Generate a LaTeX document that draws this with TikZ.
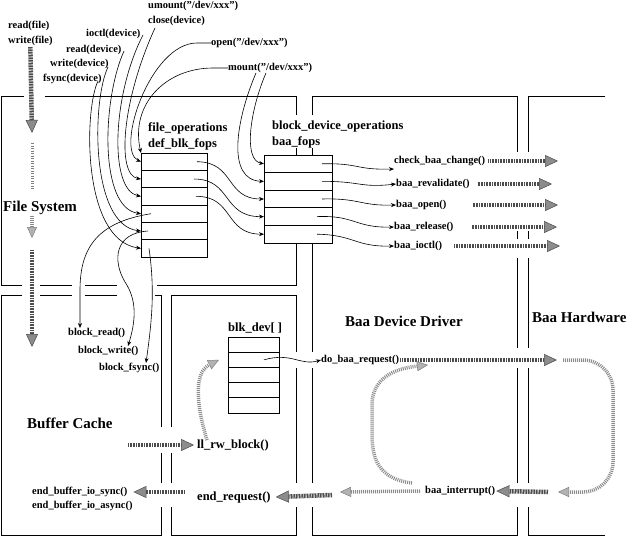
\documentclass[tikz,border=0pt]{standalone}
\usepackage{fontspec}
\setmainfont{Liberation Serif}
\usetikzlibrary{arrows.meta,positioning}

\newcommand{\dq}{\symbol{34}}
\tikzset{
  small/.style={font=\fontsize{10.5}{12}\selectfont\bfseries, inner sep=0pt, anchor=west},
  mid/.style={font=\fontsize{12.5}{14}\selectfont\bfseries, inner sep=0pt, anchor=west},
  big/.style={font=\fontsize{15}{17}\selectfont\bfseries, inner sep=0pt, anchor=west},
  panel/.style={line width=0.8pt},
  conn/.style={line width=0.6pt, -{Stealth[length=5pt,width=4pt]}},
  bigarrow/.style={draw=black!70, line width=4.5pt, dash pattern=on 1pt off 0.6pt,
    -{Triangle[length=13pt,width=12pt,color=black!70,fill=black!45,line width=0.5pt]}},
  litearrow/.style={draw=black!45, line width=3.5pt, dash pattern=on 1pt off 1pt,
    -{Triangle[length=11pt,width=10pt,color=black!50,fill=black!30,line width=0.5pt]}},
  dots/.style={draw=black!50, line width=3pt, dash pattern=on 1pt off 1.5pt},
  frow/.style={draw, line width=0.8pt, minimum width=66pt, minimum height=17.33pt,
    inner sep=0pt, outer sep=0pt},
  brow/.style={frow, minimum width=68pt, minimum height=17.6pt},
  krow/.style={frow, minimum width=51pt, minimum height=15.2pt},
}

\begin{document}
\begin{tikzpicture}[x=1pt,y=-1pt]
\useasboundingbox (0,0) rectangle (630,538);

% panels
\draw[panel] (24,96) -- (1,96) -- (1,285) -- (22,285) (40,285) -- (72,285) (85,285) -- (117,285);
\draw[panel] (157,285) -- (296,285) -- (296,243);
\draw[panel] (45,96) -- (296,96) -- (296,115) (296,148) -- (296,155);
\draw[panel] (312,115) -- (312,96) -- (517,96) -- (517,152) (312,148) -- (312,155);
\draw[panel] (312,243) -- (312,352) (312,368) -- (312,483) (312,507) -- (312,535) -- (517,535) -- (517,507)
  (517,483) -- (517,368) (517,348) -- (517,258) (517,239) -- (517,231);
\draw[panel] (605,96) -- (528,96) -- (528,152) (528,231) -- (528,239) (528,258) -- (528,348)
  (528,368) -- (528,483) (528,507) -- (528,535) -- (605,535);
\draw[panel] (22,295) -- (1,295) -- (1,535) -- (161,535) -- (161,507) (161,483) -- (161,453)
  (161,427) -- (161,295) -- (155,295) (40,295) -- (72,295) (85,295) -- (117,295);
\draw[panel] (171,427) -- (171,295) -- (296,295) -- (296,352) (296,368) -- (296,483)
  (296,507) -- (296,535) -- (171,535) -- (171,507) (171,483) -- (171,453);

% tables
\node[frow] (d1) at (174,161.7) {};
\foreach \i [count=\j from 2] in {1,...,5}
  \node[frow, below=0pt of d\i] (d\j) {};
\node[brow] (b1) at (298,163.8) {};
\foreach \i [count=\j from 2] in {1,...,4}
  \node[brow, below=0pt of b\i] (b\j) {};
\node[krow] (k1) at (253.5,344.6) {};
\foreach \i [count=\j from 2] in {1,...,4}
  \node[krow, below=0pt of k\i] (k\j) {};

% labels
\node[small] (readf) at (8,26) {read(file)};
\node[small] (writef) at (8,41) {write(file)};
\node[small] (umount) at (148,6) {umount(\dq/dev/xxx\dq)};
\node[small] (close) at (148,21) {close(device)};
\node[small] (ioctl) at (86,34) {ioctl(device)};
\node[small] (readd) at (66,50) {read(device)};
\node[small] (writed) at (50,64) {write(device)};
\node[small] (fsync) at (43,79) {fsync(device)};
\node[small] (open) at (211,43) {open(\dq/dev/xxx\dq)};
\node[small] (mount) at (228,68) {mount(\dq/dev/xxx\dq)};
\node[mid] (fileops) at (148,128) {file\_operations};
\node[mid] (defblk) at (148,144) {def\_blk\_fops};
\node[mid] (bdops) at (272,126) {block\_device\_operations};
\node[mid] (baafops) at (272,142) {baa\_fops};
\node[small] (check) at (394,161) {check\_baa\_change()};
\node[small] (reval) at (396,184) {baa\_revalidate()};
\node[small] (bopen) at (396,205) {baa\_open()};
\node[small] (brel) at (394,227) {baa\_release()};
\node[small] (bioctl) at (394,246) {baa\_ioctl()};
\node[big] (filesys) at (3,208) {File System};
\node[big] (bufcache) at (27,423) {Buffer Cache};
\node[big] (driver) at (345,321) {Baa Device Driver};
\node[big] (hardware) at (532,317) {Baa Hardware};
\node[small] (bread) at (68,333) {block\_read()};
\node[small] (bwrite) at (78,351) {block\_write()};
\node[small] (bfsync) at (99,368) {block\_fsync()};
\node[mid] (blkdev) at (228,328) {blk\_dev[ ]};
\node[small] (dobaa) at (321,360) {do\_baa\_request()};
\node[mid] (llrw) at (197,445) {ll\_rw\_block()};
\node[mid] (endreq) at (197,497) {end\_request()};
\node[small] (bint) at (425,491) {baa\_interrupt()};
\node[small] (endsync) at (32,492) {end\_buffer\_io\_sync()};
\node[small] (endasync) at (32,506) {end\_buffer\_io\_async()};

% free ends
\coordinate (fsa) at (32,133);
\coordinate (fsb) at (32,143);
\coordinate (fsc) at (32,190);
\coordinate (fsd) at (32,216);
\coordinate (fse) at (32,238);
\coordinate (fsf) at (32,250);
\coordinate (fsg) at (32,347);
\coordinate (hwin) at (557,360);
\coordinate (hwa) at (563,360);
\coordinate (hwb) at (558,492);
\coordinate (irq) at (548,492);
\coordinate (drvout) at (340,492);
\coordinate (drvin) at (332,495);
\coordinate (drvloop) at (428,365);
\coordinate (bc) at (128,445);

% system calls into def_blk_fops
\draw[conn] (98,81) .. controls (84,110) and (82,240) .. (d6.west);
\draw[conn] (108,67) .. controls (92,100) and (90,225) .. (d5.west);
\draw[conn] (124,51) .. controls (102,100) and (99,208) .. (d4.west);
\draw[conn] (143,35) .. controls (112,95) and (109,190) .. (d3.west);
\draw[conn] (155,28) .. controls (122,100) and (116,175) .. (d2.west);
\draw[conn] (open.west) -- (197,43) .. controls (150,43) and (115,150) .. (d1.west);
\draw[conn] (mount.west) -- (213,68) .. controls (165,68) and (130,105) .. (d1.north west);
\draw[conn] ([xshift=38pt]mount.south west) .. controls (250,110) and (243,160) .. (b1.west);
\draw[conn] ([xshift=28pt]mount.south west) .. controls (236,120) and (226,180) .. (b2.west);

% def_blk_fops to baa_fops
\draw[conn] ([xshift=-10pt]d1.east) .. controls (235,162) and (225,199) .. (b3.west);
\draw[conn] ([xshift=-13pt]d2.east) .. controls (232,179) and (222,217) .. (b4.west);
\draw[conn] ([xshift=-11pt]d3.east) .. controls (234,196) and (224,234) .. (b5.west);

% def_blk_fops to buffer cache
\draw[conn] ([xshift=10pt]d4.west) .. controls (100,222) and (80,245) .. (80,290) -- ([xshift=12pt]bread.north west);
\draw[conn] ([xshift=7pt]d5.west) .. controls (115,233) and (112,260) .. (125,282)
  .. controls (137,300) and (136,320) .. ([xshift=50pt]bwrite.north west);
\draw[conn] ([xshift=8pt]d6.west) .. controls (155,290) and (152,320) .. ([xshift=47pt]bfsync.north west);

% baa_fops to driver
\draw[conn] ([xshift=-10pt]b1.east) .. controls (360,163) and (355,170) .. ([yshift=-3pt]check.south west);
\draw[conn] ([xshift=-10pt]b2.east) .. controls (360,181) and (360,188) .. (reval.west);
\draw[conn] ([xshift=-10pt]b3.east) .. controls (360,198) and (360,206) .. (bopen.west);
\draw[conn] ([xshift=-15pt]b4.east) .. controls (355,215) and (355,228) .. (brel.west);
\draw[conn] ([xshift=-15pt]b5.east) .. controls (355,235) and (355,247) .. (bioctl.west);
\draw[conn] ([xshift=-15pt]k2.east) .. controls (292,352) and (300,366) .. (dobaa.west);

% to the hardware
\draw[bigarrow] ([xshift=3pt]check.east) -- (558,161);
\draw[bigarrow] ([xshift=8pt]reval.east) -- (552,184);
\draw[bigarrow] ([xshift=26pt]bopen.east) -- (558,205);
\draw[bigarrow] ([xshift=18pt]brel.east) -- (557,227);
\draw[bigarrow] ([xshift=12pt]bioctl.east) -- (560,246);
\draw[bigarrow] ([xshift=1pt]dobaa.east) -- (hwin);
\draw[litearrow, rounded corners=30pt] (hwa) -- (613,360) -- (613,492) -- (hwb);
\draw[bigarrow] (irq) -- ([xshift=1pt]bint.east);
\draw[litearrow] ([xshift=-5pt]bint.west) -- (drvout);
\draw[litearrow] ([xshift=-13pt,yshift=3pt]bint.north west) .. controls (372,478) and (372,450) .. (372,430)
  -- (372,405) .. controls (372,375) and (400,368) .. (drvloop);
\draw[bigarrow] (drvin) -- ([xshift=5pt]endreq.east);
\draw[bigarrow] ([xshift=-12pt,yshift=5pt]endreq.west) -- ([xshift=6pt]endsync.east);
\draw[bigarrow] (bc) -- ([xshift=-3pt]llrw.west);
\draw[litearrow] ([xshift=10pt,yshift=-1pt]llrw.north west) .. controls (195,400) and (195,372) .. ([xshift=-9pt]k2.west);

% file system path
\draw[bigarrow] ([yshift=-1pt]writef.south) -- (fsa);
\draw[dots] (fsb) -- (fsc);
\draw[litearrow] (fsd) -- (fse);
\draw[bigarrow] (fsf) -- (fsg);
\end{tikzpicture}
\end{document}
